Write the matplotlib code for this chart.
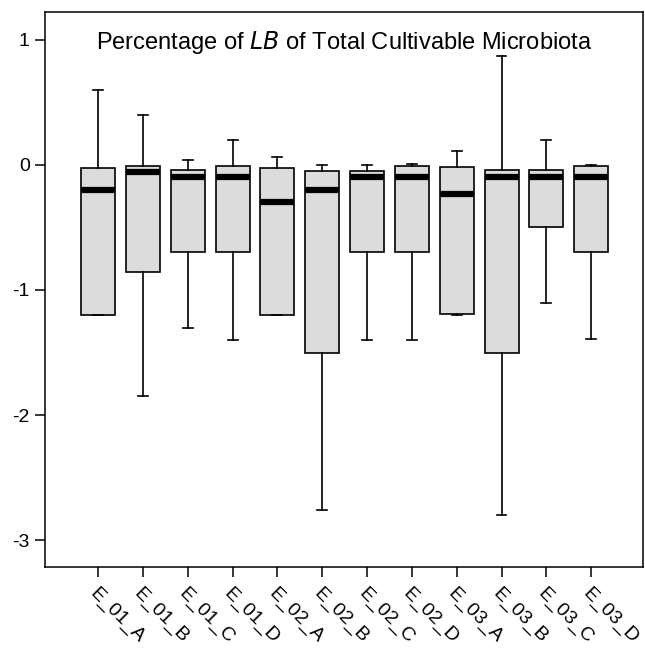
import matplotlib
matplotlib.use("Agg")
import matplotlib.pyplot as plt

plt.rcParams['font.family'] = ['Liberation Sans', 'DejaVu Sans']

groups = ['E_01_A', 'E_01_B', 'E_01_C', 'E_01_D', 'E_02_A', 'E_02_B',
          'E_02_C', 'E_02_D', 'E_03_A', 'E_03_B', 'E_03_C', 'E_03_D']
whisker_low = [-1.2, -1.85, -1.3, -1.4, -1.2, -2.76, -1.4, -1.4, -1.2, -2.8, -1.1, -1.39]
q1 = [-1.2, -0.86, -0.7, -0.7, -1.2, -1.5, -0.7, -0.7, -1.19, -1.5, -0.5, -0.7]
medians = [-0.2, -0.06, -0.1, -0.1, -0.3, -0.2, -0.1, -0.1, -0.23, -0.1, -0.1, -0.1]
q3 = [-0.027, -0.005, -0.04, -0.005, -0.027, -0.048, -0.05, -0.005, -0.02, -0.04, -0.04, -0.005]
whisker_high = [0.6, 0.4, 0.04, 0.2, 0.06, 0.0, 0.0, 0.005, 0.11, 0.87, 0.2, 0.0]

stats = []
for i in range(len(groups)):
    stats.append({'label': groups[i], 'whislo': whisker_low[i], 'q1': q1[i],
                  'med': medians[i], 'q3': q3[i], 'whishi': whisker_high[i],
                  'fliers': []})

fig = plt.figure(figsize=(6.45, 6.51), dpi=100)
ax = fig.add_axes([0.0698, 0.129, 0.9271, 0.8526])

ax.bxp(stats, widths=0.76, capwidths=0.22, patch_artist=True, showfliers=False,
       boxprops=dict(facecolor='#dcdcdc', edgecolor='black', linewidth=1.2),
       medianprops=dict(color='black', linewidth=4.5, solid_capstyle='butt'),
       whiskerprops=dict(color='black', linewidth=1.2),
       capprops=dict(color='black', linewidth=1.2))

ax.set_xlim(-0.184, 13.155)
ax.set_ylim(-3.216, 1.224)
ax.set_yticks([1, 0, -1, -2, -3])
ax.set_yticklabels(['1', '0', '-1', '-2', '-3'])
ax.set_xticks(range(1, len(groups) + 1))
ax.set_xticklabels(groups, rotation=-45, ha='left', va='top', rotation_mode='anchor')

for s in ax.spines.values():
    s.set_linewidth(1.1)
ax.tick_params(axis='both', direction='out', length=7.5, width=1.1, labelsize=14, pad=3.5)
ax.tick_params(axis='x', pad=5)

ax.text(0.5, 0.945, 'Percentage of $\\it{LB}$ of Total Cultivable Microbiota',
        transform=ax.transAxes, ha='center', va='center', fontsize=17)

fig.savefig('out.png', dpi=100)
